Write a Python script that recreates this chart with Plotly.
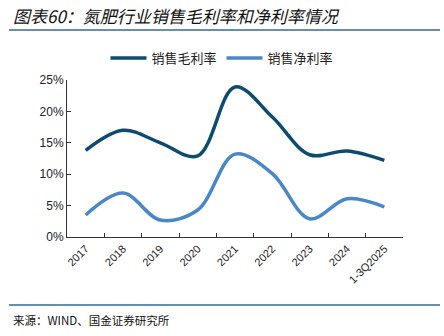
import plotly.graph_objects as go

categories = ["2017", "2018", "2019", "2020", "2021", "2022", "2023", "2024", "1-3Q2025"]
gross_margin = [13.8, 17.0, 15.0, 12.9, 23.9, 19.1, 13.1, 13.7, 12.2]
net_margin = [3.5, 7.0, 2.7, 4.3, 13.2, 10.1, 2.9, 6.1, 4.8]
y_ticks = [0, 5, 10, 15, 20, 25]

DARK = "#0D4C70"
LIGHT = "#4A87C8"
RULE = "#2F6B90"
FONT = "Liberation Sans, Noto Sans CJK SC, sans-serif"

W, H = 444, 336
M_L, M_R, M_T, M_B = 67, 41, 80, 99
plot_w = W - M_L - M_R
plot_h = H - M_T - M_B


def paper_x(px):
    return (px - M_L) / plot_w


def paper_y(py):
    return (H - M_B - py) / plot_h


fig = go.Figure()
fig.add_trace(go.Scatter(
    x=categories, y=gross_margin, name="销售毛利率", mode="lines",
    line=dict(color=DARK, width=3.5, shape="spline", smoothing=1.0),
))
fig.add_trace(go.Scatter(
    x=categories, y=net_margin, name="销售净利率", mode="lines",
    line=dict(color=LIGHT, width=3.5, shape="spline", smoothing=1.0),
))

fig.update_layout(
    width=W, height=H,
    margin=dict(l=M_L, r=M_R, t=M_T, b=M_B, autoexpand=False),
    paper_bgcolor="white", plot_bgcolor="white",
    font=dict(family=FONT, size=11, color="#222222"),
    showlegend=True,
    legend=dict(
        orientation="h", x=paper_x(222), xanchor="center",
        y=paper_y(58), yanchor="middle",
        font=dict(size=13, family="Noto Sans CJK SC"),
        itemwidth=36,
    ),
    xaxis=dict(
        type="category", showgrid=False, showline=True, linecolor="#333333",
        linewidth=1, ticks="inside", ticklen=4, tickcolor="#333333",
        tickson="boundaries", tickangle=-45, range=[-0.5, 8.5],
        tickfont=dict(size=11),
    ),
    yaxis=dict(
        range=[0, 25], tickvals=y_ticks, ticktext=[f"{v}%" for v in y_ticks],
        showgrid=False, showline=True, linecolor="#333333", linewidth=1,
        ticks="inside", ticklen=4, tickcolor="#333333", zeroline=False,
        tickfont=dict(size=12),
    ),
)

# Title with rule beneath, and the source note with rule above
fig.add_annotation(
    text="<i>图表60：氮肥行业销售毛利率和净利率情况</i>", xref="paper", yref="paper",
    x=paper_x(11), y=paper_y(15), xanchor="left", yanchor="middle",
    showarrow=False, font=dict(size=17, family="Noto Sans CJK SC", color="#111111"),
)
fig.add_shape(type="line", xref="paper", yref="paper", x0=paper_x(9), x1=paper_x(440),
              y0=paper_y(30), y1=paper_y(30), line=dict(color=RULE, width=1.5))
fig.add_shape(type="line", xref="paper", yref="paper", x0=paper_x(9), x1=paper_x(440),
              y0=paper_y(305), y1=paper_y(305), line=dict(color=RULE, width=1.5))
fig.add_annotation(
    text="来源：WIND、国金证券研究所", xref="paper", yref="paper",
    x=paper_x(11), y=paper_y(320), xanchor="left", yanchor="middle", showarrow=False,
    font=dict(size=11.5, family="Noto Sans CJK SC", color="#111111"),
)

fig.write_html("out.html")
